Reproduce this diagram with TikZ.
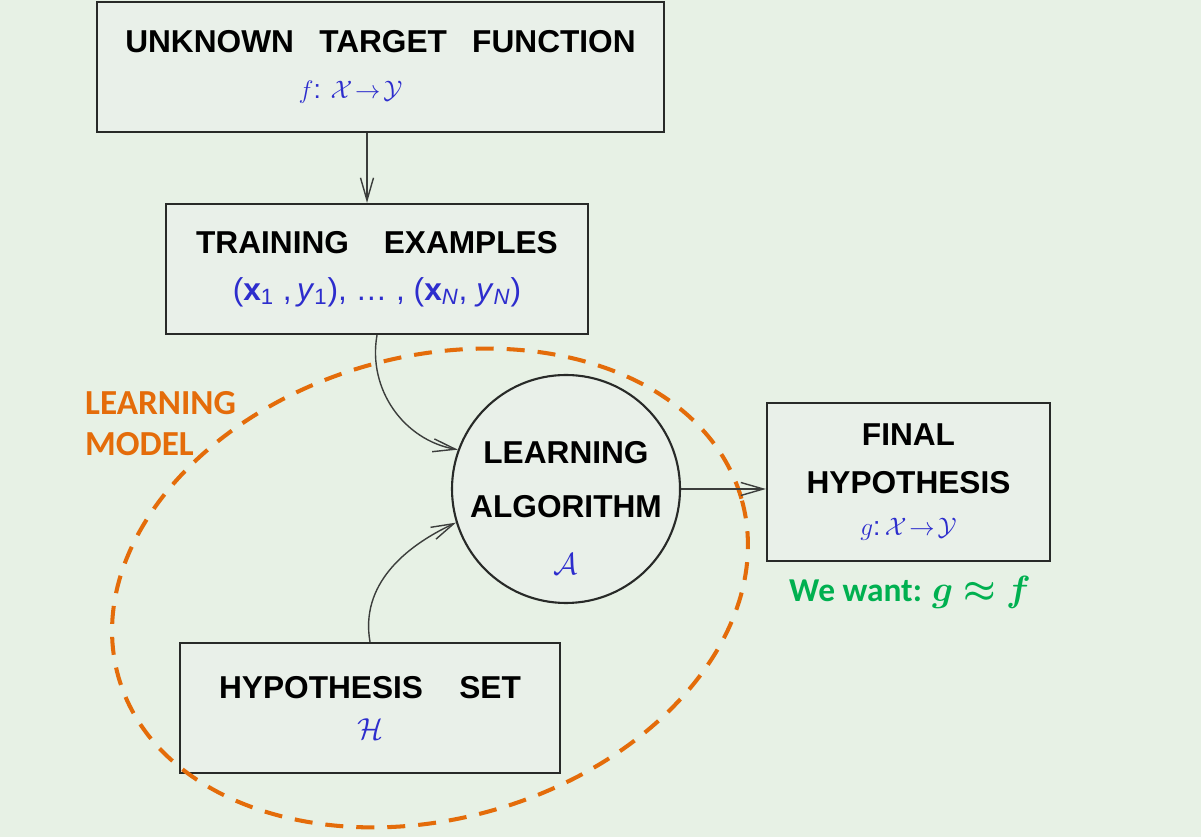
\documentclass[tikz,border=0pt]{standalone}
\usepackage{amsmath,amssymb,bm}
\usepackage{fontspec}
\setmainfont{Liberation Sans}
\newfontfamily\calibri{Carlito}
\usetikzlibrary{arrows.meta,positioning}

\definecolor{slidebg}{RGB}{231,241,229}
\definecolor{boxfill}{RGB}{233,240,233}
\definecolor{boxline}{RGB}{40,42,40}
\definecolor{arrgrey}{RGB}{60,62,60}
\definecolor{formblue}{RGB}{45,45,205}
\definecolor{modelorange}{RGB}{228,108,10}
\definecolor{wantgreen}{RGB}{0,176,80}

\newcommand{\formula}[2][15]{{\mdseries\color{formblue}\fontsize{#1}{17}\selectfont #2}}

\begin{document}
\begin{tikzpicture}[
    box/.style={draw=boxline, line width=1.3pt, fill=boxfill, minimum height=2.6cm, inner sep=0pt, align=center, font=\bfseries\fontsize{18}{26.5}\selectfont},
    algo/.style={circle, draw=boxline, line width=1.2pt, fill=boxfill, minimum size=4.56cm, inner sep=0pt},
    arr/.style={-{Straight Barb[length=4.5mm, width=2.6mm]}, line width=0.8pt, draw=arrgrey},
    modelline/.style={draw=modelorange, line width=2.3pt, dash pattern=on 0.36cm off 0.26cm}
]
  \path[use as bounding box, fill=slidebg] (0,0) rectangle (24.02,16.74);

  \node[box, minimum width=11.34cm] (target) at (7.61, 15.4)
    {UNKNOWN\hspace{0.8em}TARGET\hspace{0.8em}FUNCTION\\ \formula{$f$: $\mathcal{X}\!\to\!\mathcal{Y}$\hspace{1.2cm}}};
  \node[box, minimum width=8.44cm] (train) at (7.54, 11.36)
    {TRAINING\hspace{1.1em}EXAMPLES\\ {\mdseries\color{formblue}\fontsize{18}{20}\selectfont (\textbf{x}\textsubscript{1} ,\,\textit{y}\textsubscript{1}), \dots\ , (\textbf{x}\textsubscript{\textit{N}}, \textit{y}\textsubscript{\textit{N}})}};
  \node[box, minimum width=7.6cm] (hypset) at (7.4, 2.58)
    {HYPOTHESIS\hspace{1.15em}SET\\[-3pt] \formula[17]{$\mathcal{H}$}};
  \node[box, minimum width=5.66cm, minimum height=3.16cm, font=\bfseries\fontsize{18}{27.4}\selectfont] (final) at (18.17, 7.1)
    {FINAL\\HYPOTHESIS\\[-3.4pt] \formula{$g$:\,$\mathcal{X}\!\to\!\mathcal{Y}$}};

  \node[algo] (alg) at (11.32, 6.96) {};
  \node[align=center, font=\bfseries\fontsize{18}{30.7}\selectfont] (algtext) at ([yshift=-0.38cm]alg.center)
    {LEARNING\\ALGORITHM\\[1.5pt] \formula[17]{$\mathcal{A}$}};

  % learning model outline
  \draw[modelline, rotate around={16:(8.6,4.98)}] (8.6,4.98) ellipse [x radius=6.48, y radius=4.62];
  \node[anchor=west, align=left, text=modelorange, font=\calibri\bfseries\fontsize{20}{23.4}\selectfont] (model) at (1.58, 8.27)
    {LEARNING\\MODEL};

  \node[text=wantgreen, font=\fontsize{19}{22}\selectfont] (want) at (18.2, 4.9)
    {{\calibri\bfseries We want: }{\fontsize{20}{22}\selectfont$\bm{g \approx f}$}};

  \draw[arr] ([xshift=-0.27cm]target.south) -- ([xshift=-0.27cm]target.south |- train.north);
  \draw[arr] (train.south) to[out=-100, in=170] (alg.160);
  \draw[arr] (hypset.north) to[out=100, in=205] (alg.197);
  \draw[arr] (alg.east) -- (alg.east -| final.west);
\end{tikzpicture}
\end{document}
